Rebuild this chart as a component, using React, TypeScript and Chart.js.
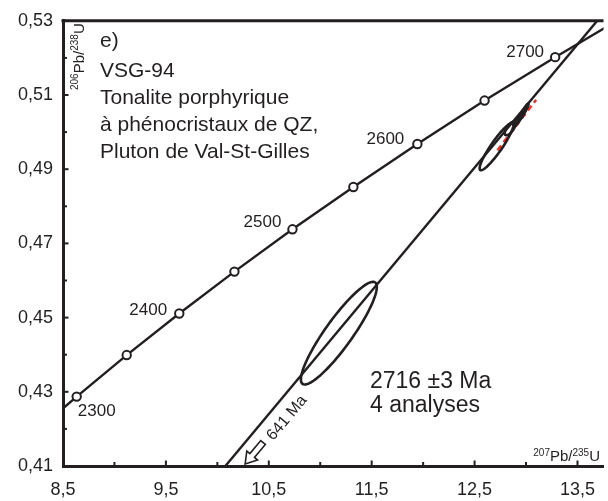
import React, { useEffect, useRef } from "react";
import { Chart, registerables } from "chart.js";

Chart.register(...registerables);

// ---------- data ----------
const concordiaAges = [2250, 2300, 2350, 2400, 2450, 2500, 2550, 2600, 2650, 2700, 2750];
const concordiaX = [8.170, 8.633, 9.119, 9.630, 10.166, 10.730, 11.322, 11.944, 12.597, 13.283, 14.004];
const concordiaY = [0.4177, 0.4287, 0.4399, 0.4511, 0.4624, 0.4738, 0.4852, 0.4968, 0.5085, 0.5202, 0.5320];
const labeledAges = [2300, 2400, 2500, 2600, 2700];

const discordiaX = [10.0, 13.8];
const discordiaY = [0.4074, 0.5336];

const refLineX = [12.722, 13.098];
const refLineY = [0.4951, 0.5087];

const ellipseCX = [11.181, 12.713, 12.846, 12.954, 12.973];
const ellipseCY = [0.4458, 0.4961, 0.501, 0.5045, 0.5053];
const ellipseSX = [0.369, 0.164, 0.053, 0.0675, 0.05];
const ellipseSY = [0.01384, 0.00639, 0.00186, 0.00298, 0.0024];
const ellipseRho = [0.9, 0.92, 0.7, 0.97, 0.96];

const xMajorTicks = [8.5, 9.5, 10.5, 11.5, 12.5, 13.5];
const xMinorTicks = [9, 10, 11, 12, 13];
const yMajorTicks = [0.41, 0.43, 0.45, 0.47, 0.49, 0.51, 0.53];
const yMinorTicks = [0.42, 0.44, 0.46, 0.48, 0.5, 0.52];

const titleLines = ["e)", "VSG-94", "Tonalite porphyrique", "à phénocristaux de QZ,", "Pluton de Val-St-Gilles"];
const resultLines = ["2716 ±3 Ma", "4 analyses"];
const lowerInterceptLabel = "641 Ma";
const xTitle: [string, boolean][] = [["207", true], ["Pb/", false], ["235", true], ["U", false]];
const yTitle: [string, boolean][] = [["206", true], ["Pb/", false], ["238", true], ["U", false]];

// ---------- styles ----------
const INK = "#231f20";
const RED = "#e8302a";
const FONT = '"Liberation Sans", Arial, sans-serif';

function drawParts(ctx: CanvasRenderingContext2D, parts: [string, boolean][], x: number, y: number, big: number, small: number) {
  let cx = x;
  for (const [t, sup] of parts) {
    ctx.font = `${sup ? small : big}px ${FONT}`;
    ctx.fillText(t, cx, sup ? y - big * 0.36 : y);
    cx += ctx.measureText(t).width;
  }
}
function partsWidth(ctx: CanvasRenderingContext2D, parts: [string, boolean][], big: number, small: number) {
  let w = 0;
  for (const [t, sup] of parts) {
    ctx.font = `${sup ? small : big}px ${FONT}`;
    w += ctx.measureText(t).width;
  }
  return w;
}

const ageLabelOffsets: Record<number, [number, number]> = {
  2300: [20, 15],
  2400: [-31, -3.5],
  2500: [-30, -7],
  2600: [-32, -4.5],
  2700: [-30, -5],
};

const annotationPlugin = {
  id: "concordiaAnnotations",
  afterDatasetsDraw(chart: any) {
    const ctx: CanvasRenderingContext2D = chart.ctx;
    const xs = chart.scales.x;
    const ys = chart.scales.y;
    const area = chart.chartArea;
    ctx.save();
    ctx.beginPath();
    ctx.rect(area.left, area.top, area.right - area.left, area.bottom - area.top);
    ctx.clip();
    // ellipses
    ctx.strokeStyle = INK;
    ctx.lineWidth = 2.6;
    for (let i = 0; i < ellipseCX.length; i++) {
      const s = Math.sqrt(1 - ellipseRho[i] * ellipseRho[i]);
      ctx.beginPath();
      for (let k = 0; k <= 120; k++) {
        const t = (k / 120) * Math.PI * 2;
        const dx = ellipseCX[i] + ellipseSX[i] * Math.cos(t);
        const dy = ellipseCY[i] + ellipseSY[i] * (ellipseRho[i] * Math.cos(t) + s * Math.sin(t));
        const px = xs.getPixelForValue(dx);
        const py = ys.getPixelForValue(dy);
        if (k === 0) ctx.moveTo(px, py);
        else ctx.lineTo(px, py);
      }
      ctx.closePath();
      ctx.stroke();
    }
    ctx.restore();
  },
  afterDraw(chart: any) {
    const ctx: CanvasRenderingContext2D = chart.ctx;
    const xs = chart.scales.x;
    const ys = chart.scales.y;
    const area = chart.chartArea;
    ctx.save();
    // top border
    ctx.strokeStyle = INK;
    ctx.lineWidth = 3;
    ctx.beginPath();
    ctx.moveTo(area.left - 1.5, area.top);
    ctx.lineTo(area.right, area.top);
    ctx.stroke();
    // inward ticks
    ctx.lineWidth = 2;
    const tick = (vals: number[], len: number, axis: "x" | "y") => {
      for (const v of vals) {
        ctx.beginPath();
        if (axis === "x") {
          const px = xs.getPixelForValue(v);
          ctx.moveTo(px, area.bottom);
          ctx.lineTo(px, area.bottom - len);
        } else {
          const py = ys.getPixelForValue(v);
          ctx.moveTo(area.left, py);
          ctx.lineTo(area.left + len, py);
        }
        ctx.stroke();
      }
    };
    tick(xMajorTicks, 5.5, "x");
    tick(xMinorTicks, 4, "x");
    tick(yMajorTicks, 5.5, "y");
    tick(yMinorTicks, 4, "y");

    ctx.fillStyle = INK;
    // title block
    ctx.font = `21px ${FONT}`;
    ctx.textAlign = "left";
    ctx.textBaseline = "alphabetic";
    const titleBase = [47, 76.5, 103.5, 130.5, 157.5];
    titleLines.forEach((t, i) => ctx.fillText(t, 100, titleBase[i]));
    // result text
    ctx.font = `23px ${FONT}`;
    ctx.fillText(resultLines[0], 370, 387.5);
    ctx.fillText(resultLines[1], 370, 412);

    // age labels
    ctx.font = `17px ${FONT}`;
    ctx.textAlign = "center";
    ctx.textBaseline = "middle";
    for (const age of labeledAges) {
      const i = concordiaAges.indexOf(age);
      const px = xs.getPixelForValue(concordiaX[i]);
      const py = ys.getPixelForValue(concordiaY[i]);
      const [ox, oy] = ageLabelOffsets[age];
      ctx.fillText(String(age), px + ox, py + oy);
    }

    // discordia direction in pixels
    const p0x = xs.getPixelForValue(discordiaX[0]);
    const p0y = ys.getPixelForValue(discordiaY[0]);
    const p1x = xs.getPixelForValue(discordiaX[1]);
    const p1y = ys.getPixelForValue(discordiaY[1]);
    const upAngle = Math.atan2(p1y - p0y, p1x - p0x);
    const downAngle = upAngle + Math.PI;

    // 641 Ma label
    ctx.save();
    ctx.translate(287, 418);
    ctx.rotate(upAngle);
    ctx.font = `16px ${FONT}`;
    ctx.textAlign = "center";
    ctx.textBaseline = "middle";
    ctx.fillText(lowerInterceptLabel, 0, 0);
    ctx.restore();

    // hollow arrow
    ctx.save();
    const tipX = xs.getPixelForValue(10.27);
    const tipY = ys.getPixelForValue(0.41) - 2;
    ctx.translate(tipX, tipY);
    ctx.rotate(downAngle);
    const L = 28, hl = 11, hw = 7, sw = 3;
    ctx.beginPath();
    ctx.moveTo(0, 0);
    ctx.lineTo(-hl, -hw);
    ctx.lineTo(-hl, -sw);
    ctx.lineTo(-L, -sw);
    ctx.lineTo(-L, sw);
    ctx.lineTo(-hl, sw);
    ctx.lineTo(-hl, hw);
    ctx.closePath();
    ctx.fillStyle = "#ffffff";
    ctx.fill();
    ctx.lineWidth = 1.6;
    ctx.strokeStyle = INK;
    ctx.stroke();
    ctx.restore();

    // axis titles
    ctx.fillStyle = INK;
    ctx.textAlign = "left";
    ctx.textBaseline = "alphabetic";
    const xw = partsWidth(ctx, xTitle, 15, 10);
    drawParts(ctx, xTitle, 600 - xw, 461, 15, 10);
    ctx.save();
    ctx.translate(83.5, 90);
    ctx.rotate(-Math.PI / 2);
    drawParts(ctx, yTitle, 0, 0, 15, 10);
    ctx.restore();

    ctx.restore();
  },
};

export default function App() {
  const ref = useRef<HTMLCanvasElement | null>(null);
  useEffect(() => {
    if (!ref.current) return;
    const pointRadius = concordiaAges.map((a, i) => (i === 0 || i === concordiaAges.length - 1 ? 0 : 4.2));
    const chart = new Chart(ref.current, {
      type: "scatter",
      data: {
        datasets: [
          {
            data: discordiaX.map((x, i) => ({ x, y: discordiaY[i] })),
            showLine: true,
            borderColor: INK,
            borderWidth: 2.4,
            pointRadius: 0,
          },
          {
            data: refLineX.map((x, i) => ({ x, y: refLineY[i] })),
            showLine: true,
            borderColor: RED,
            borderWidth: 2.5,
            borderDash: [6, 4],
            pointRadius: 0,
          },
          {
            data: concordiaX.map((x, i) => ({ x, y: concordiaY[i] })),
            showLine: true,
            borderColor: INK,
            borderWidth: 2.4,
            pointRadius,
            pointBackgroundColor: "#ffffff",
            pointBorderColor: INK,
            pointBorderWidth: 2,
          },
        ],
      },
      options: {
        animation: false,
        responsive: false,
        devicePixelRatio: 1,
        layout: { padding: { top: 15, right: 0, left: 0, bottom: 0 } },
        plugins: { legend: { display: false }, tooltip: { enabled: false } },
        scales: {
          x: {
            type: "linear",
            min: 8.5,
            max: 13.753,
            afterBuildTicks: (s: any) => {
              s.ticks = xMajorTicks.map((v) => ({ value: v }));
            },
            afterFit: (s: any) => {
              s.height = 35;
            },
            grid: { display: false, drawTicks: false },
            border: { display: true, width: 3, color: INK },
            ticks: {
              autoSkip: false,
              maxRotation: 0,
              padding: 13,
              color: INK,
              font: { family: FONT, size: 18 },
              callback: (v: any) => Number(v).toFixed(1).replace(".", ","),
            },
          },
          y: {
            type: "linear",
            min: 0.41,
            max: 0.53,
            afterBuildTicks: (s: any) => {
              s.ticks = yMajorTicks.map((v) => ({ value: v }));
            },
            afterFit: (s: any) => {
              s.width = 63;
            },
            grid: { display: false, drawTicks: false },
            border: { display: true, width: 3, color: INK },
            ticks: {
              autoSkip: false,
              padding: 10,
              color: INK,
              font: { family: FONT, size: 18 },
              callback: (v: any) => Number(v).toFixed(2).replace(".", ","),
            },
          },
        },
      },
      plugins: [annotationPlugin],
    });
    return () => chart.destroy();
  }, []);
  return (
    <div style={{ position: "absolute", left: 0, top: 0, width: 608, height: 501, background: "#fff" }}>
      <canvas ref={ref} width={608} height={501} />
    </div>
  );
}
